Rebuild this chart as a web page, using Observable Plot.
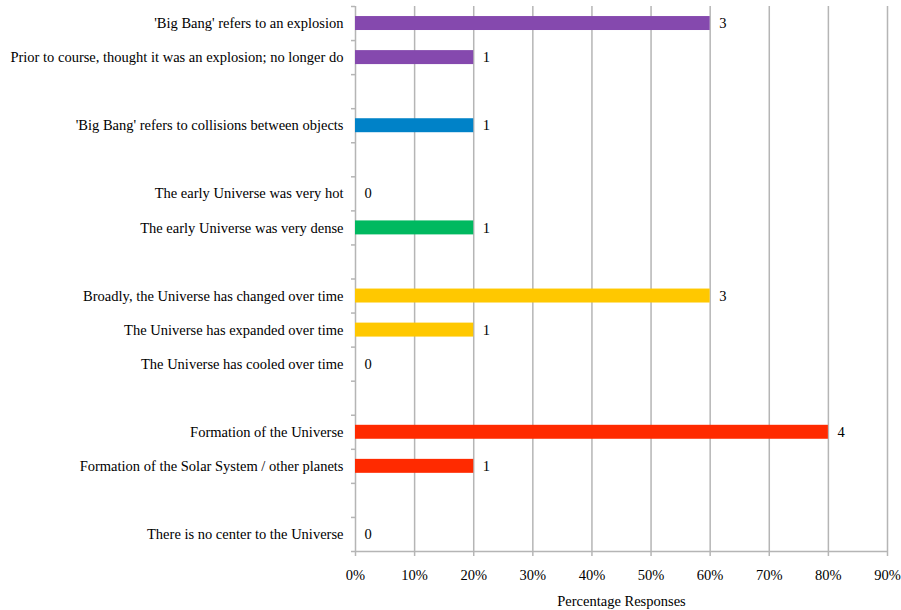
<!DOCTYPE html>
<html>
<head>
<meta charset="utf-8">
<script src="https://cdn.jsdelivr.net/npm/d3@7"></script>
<script src="https://cdn.jsdelivr.net/npm/@observablehq/plot@0.6"></script>
<style>
  html, body { margin: 0; padding: 0; background: #fff; }
  #chart svg { display: block; }
</style>
</head>
<body>
<div id="chart"></div>
<script>
const labels = [
  "'Big Bang' refers to an explosion",
  "Prior to course, thought it was an explosion; no longer do",
  "",
  "'Big Bang' refers to collisions between objects",
  "",
  "The early Universe was very hot",
  "The early Universe was very dense",
  "",
  "Broadly, the Universe has changed over time",
  "The Universe has expanded over time",
  "The Universe has cooled over time",
  "",
  "Formation of the Universe",
  "Formation of the Solar System / other planets",
  "",
  "There is no center to the Universe"
];
const percents = [0.6, 0.2, null, 0.2, null, 0, 0.2, null, 0.6, 0.2, 0, null, 0.8, 0.2, null, 0];
const counts   = [3, 1, null, 1, null, 0, 1, null, 3, 1, 0, null, 4, 1, null, 0];
const groups   = ["explosion", "explosion", null, "collisions", null, "hot", "dense", null,
                  "changed", "changed", "changed", null, "formation", "formation", null, "center"];
const groupNames  = ["explosion", "collisions", "hot", "dense", "changed", "formation", "center"];
const groupColors = ["#8549AE", "#0082C8", "#00B960", "#00B960", "#FFC800", "#FF2A00", "#FF2A00"];
const xTicks = [0, 0.1, 0.2, 0.3, 0.4, 0.5, 0.6, 0.7, 0.8, 0.9];

const rows = labels.map((label, i) => ({
  i, label, pct: percents[i], count: counts[i], group: groups[i]
}));
const filled = rows.filter(d => d.pct !== null);
const named = rows.filter(d => d.label !== "");
const halfBar = 0.205;
const gray = "#b5b5b5";
const fs = 14.5;

const chart = Plot.plot({
  width: 901,
  height: 610,
  marginLeft: 355,
  marginRight: 14,
  marginTop: 6,
  marginBottom: 59,
  style: { fontFamily: "'Liberation Serif', 'Times New Roman', serif", fontSize: fs + "px", color: "#000", background: "#fff" },
  x: { domain: [0, 0.9] },
  y: { domain: [labels.length, 0] },
  color: { domain: groupNames, range: groupColors },
  marks: [
    Plot.gridX(xTicks.slice(1), { stroke: gray, strokeOpacity: 1, strokeWidth: 1.5 }),
    Plot.ruleX([0], { stroke: gray, strokeWidth: 1.5 }),
    Plot.ruleY([labels.length], { stroke: gray, strokeWidth: 1.5 }),
    Plot.axisY(d3.range(labels.length + 1), { tickSize: 4, tickFormat: () => "", stroke: gray, strokeWidth: 1.5 }),
    Plot.axisY(named.map(d => d.i + 0.5), {
      tickSize: 0, tickPadding: 12, fontSize: fs,
      tickFormat: v => labels[Math.floor(v)]
    }),
    Plot.axisX(xTicks, {
      tickSize: 5, tickPadding: 13, fontSize: fs, stroke: gray, strokeWidth: 1.5,
      tickFormat: d3.format(".0%"), label: null
    }),
    Plot.text(["Percentage Responses"], {
      frameAnchor: "bottom", dy: 54, fontSize: fs, fill: "#000"
    }),
    Plot.rectX(filled, {
      x1: 0, x2: "pct",
      y1: d => d.i + 0.5 - halfBar, y2: d => d.i + 0.5 + halfBar,
      fill: "group"
    }),
    Plot.text(filled, {
      x: "pct", y: d => d.i + 0.5, text: d => String(d.count),
      dx: 9, textAnchor: "start", fontSize: fs, fill: "#000"
    })
  ]
});
document.getElementById("chart").append(chart);
</script>
</body>
</html>
